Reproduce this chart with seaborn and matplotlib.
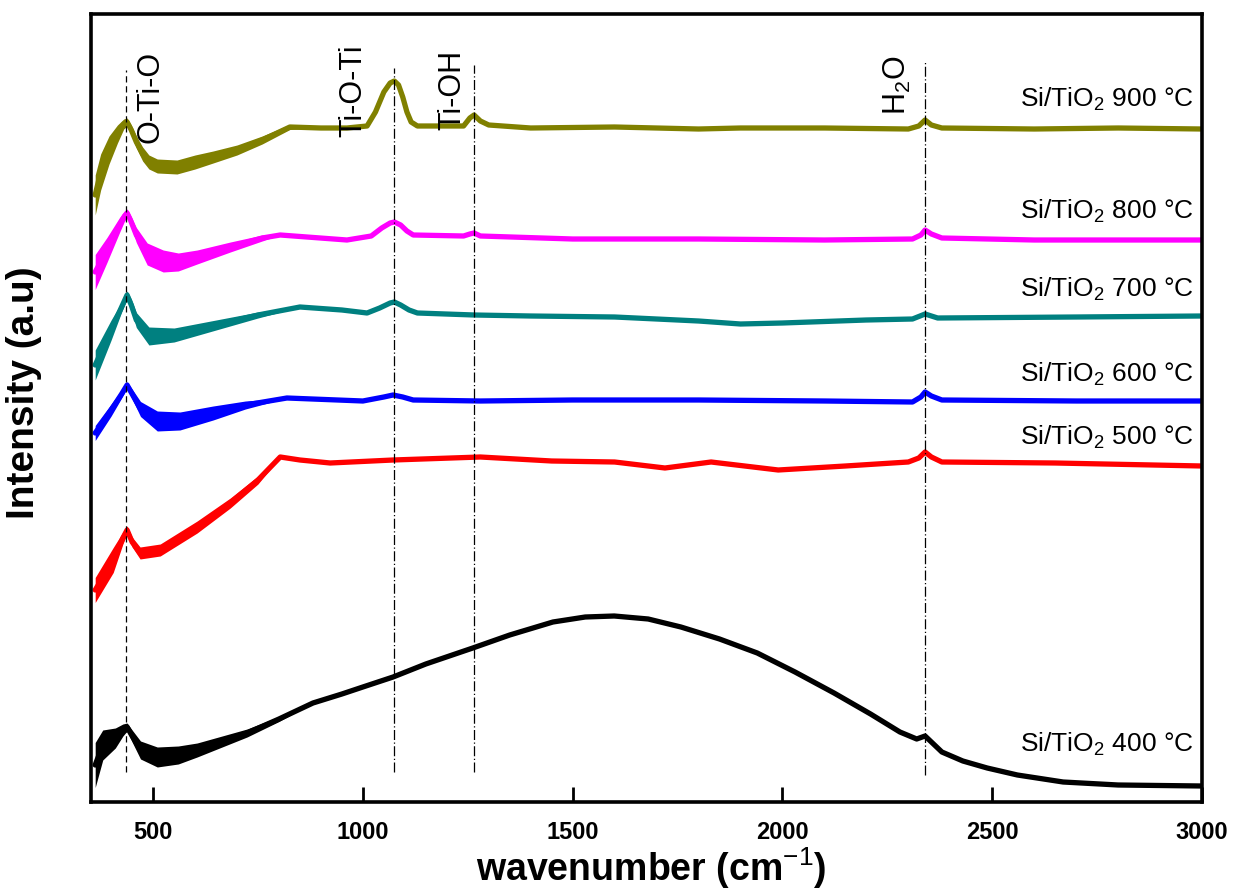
import numpy as np
import pandas as pd
import matplotlib
matplotlib.use("Agg")
import matplotlib.pyplot as plt
import seaborn as sns

# ---------------- data ----------------
# wavenumber (cm-1), offset intensity (a.u.), band thickness of the noisy trace
wn_900 = [362, 375, 395, 415, 430, 438, 448, 460, 475, 490, 510, 557, 600, 643, 700, 760, 826, 900, 962, 1010, 1030, 1050, 1065, 1075, 1085, 1095, 1105, 1115, 1130, 1240, 1255, 1265, 1280, 1300, 1400, 1600, 1800, 1900, 2100, 2300, 2325, 2340, 2355, 2380, 2600, 2800, 3000]
y_900 = [607, 630, 652, 668, 678, 680, 672, 660, 648, 640, 636, 635, 640, 645, 652, 662, 675, 674, 674, 676, 690, 710, 719, 721, 717, 705, 690, 680, 676, 676, 684, 687, 681, 677, 674, 675, 673, 674, 674, 673, 676, 682, 677, 674, 673, 674, 673]
s_900 = [40, 36, 28, 18, 10, 8, 10, 12, 14, 14, 14, 14, 14, 12, 10, 8, 5, 0, 0, 0, 0, 0, 0, 0, 0, 0, 0, 0, 0, 0, 0, 0, 0, 0, 0, 0, 0, 0, 0, 0, 0, 0, 0, 0, 0, 0, 0]

wn_800 = [362, 390, 420, 432, 438, 446, 460, 486, 524, 560, 605, 684, 760, 803, 962, 1020, 1045, 1065, 1075, 1090, 1105, 1120, 1240, 1255, 1265, 1280, 1500, 1800, 2100, 2310, 2330, 2340, 2355, 2380, 2600, 3000]
y_800 = [530, 552, 577, 586, 589, 582, 567, 548, 541, 540, 545, 555, 564, 567, 562, 566, 574, 579, 580, 577, 571, 567, 566, 568, 569, 566, 563, 563, 562, 563, 567, 572, 568, 564, 562, 562]
s_800 = [35, 25, 15, 10, 8, 10, 15, 22, 22, 18, 14, 10, 6, 0, 0, 0, 0, 0, 0, 0, 0, 0, 0, 0, 0, 0, 0, 0, 0, 0, 0, 0, 0, 0, 0, 0]

wn_700 = [362, 400, 425, 438, 448, 460, 490, 550, 650, 750, 850, 950, 1010, 1040, 1065, 1075, 1090, 1110, 1130, 1265, 1400, 1600, 1800, 1900, 2000, 2200, 2310, 2340, 2370, 2700, 3000]
y_700 = [437, 472, 495, 507, 497, 482, 466, 467, 477, 487, 495, 492, 489, 494, 499, 500, 497, 492, 489, 487, 486, 485, 481, 478, 479, 482, 483, 488, 484, 485, 486]
s_700 = [30, 20, 10, 8, 12, 15, 18, 14, 10, 6, 0, 0, 0, 0, 0, 0, 0, 0, 0, 0, 0, 0, 0, 0, 0, 0, 0, 0, 0, 0, 0]

wn_600 = [362, 400, 425, 438, 450, 470, 510, 564, 643, 720, 819, 1000, 1050, 1072, 1095, 1120, 1280, 1500, 1800, 2100, 2310, 2330, 2340, 2355, 2380, 2700, 3000]
y_600 = [369, 392, 408, 417, 408, 393, 381, 381, 389, 397, 404, 401, 405, 407, 405, 402, 401, 402, 402, 401, 400, 405, 410, 406, 402, 401, 401]
s_600 = [15, 12, 8, 6, 10, 15, 20, 18, 14, 8, 0, 0, 0, 0, 0, 0, 0, 0, 0, 0, 0, 0, 0, 0, 0, 0, 0]

wn_500 = [362, 405, 428, 438, 450, 469, 517, 605, 684, 750, 803, 850, 922, 1072, 1280, 1450, 1600, 1720, 1830, 1990, 2150, 2300, 2325, 2340, 2355, 2380, 2650, 3000]
y_500 = [212, 242, 264, 272, 260, 249, 252, 275, 299, 322, 345, 342, 339, 342, 345, 341, 340, 334, 340, 332, 336, 340, 344, 350, 345, 340, 339, 336]
s_500 = [25, 25, 12, 8, 10, 12, 12, 12, 10, 8, 0, 0, 0, 0, 0, 0, 0, 0, 0, 0, 0, 0, 0, 0, 0, 0, 0, 0]

wn_400 = [362, 380, 410, 428, 438, 450, 470, 510, 560, 605, 724, 800, 881, 950, 1000, 1072, 1150, 1262, 1350, 1453, 1530, 1599, 1680, 1758, 1850, 1940, 2030, 2123, 2210, 2280, 2320, 2340, 2355, 2380, 2430, 2488, 2560, 2669, 2800, 3000]
y_400 = [37, 57, 64, 72, 75, 66, 52, 45, 47, 52, 69, 83, 99, 108, 115, 125, 138, 154, 167, 180, 185, 186, 183, 175, 163, 149, 130, 109, 88, 70, 63, 66, 60, 50, 41, 34, 27, 20, 17, 16]
s_400 = [45, 30, 20, 12, 8, 12, 18, 20, 18, 14, 8, 5, 0, 0, 0, 0, 0, 0, 0, 0, 0, 0, 0, 0, 0, 0, 0, 0, 0, 0, 0, 0, 0, 0, 0, 0, 0, 0, 0, 0]

series_names = ["900", "800", "700", "600", "500", "400"]
series_colors = ["#808000", "#FF00FF", "#008080", "#0000FF", "#FF0000", "#000000"]
label_y = [695, 583, 505, 420, 357, 50]

peak_names = ["O-Ti-O", "Ti-O-Ti", "Ti-OH", "H$_2$O"]
peak_pos = [435, 1075, 1265, 2340]
peak_text_x = [493, 977, 1213, 2273]
peak_text_y = [659, 665, 672, 687]

x_ticks = [500, 1000, 1500, 2000, 2500, 3000]

# ---------------- build table ----------------
frames = []
for name, wn, y, s in [("900", wn_900, y_900, s_900), ("800", wn_800, y_800, s_800),
                       ("700", wn_700, y_700, s_700), ("600", wn_600, y_600, s_600),
                       ("500", wn_500, y_500, s_500), ("400", wn_400, y_400, s_400)]:
    frames.append(pd.DataFrame({"wn": wn, "y": y, "s": s, "series": name}))
df = pd.concat(frames, ignore_index=True)

# ---------------- plot ----------------
sns.set_theme(style="white")
plt.rcParams["font.family"] = ["Liberation Sans", "DejaVu Sans"]
plt.rcParams["mathtext.fontset"] = "custom"
plt.rcParams["mathtext.rm"] = "Liberation Sans"
plt.rcParams["mathtext.it"] = "Liberation Sans:italic"
plt.rcParams["mathtext.bf"] = "Liberation Sans:bold"
plt.rcParams["text.color"] = "black"
plt.rcParams["axes.labelcolor"] = "black"
plt.rcParams["xtick.color"] = "black"

fig = plt.figure(figsize=(12.35, 8.94), dpi=100)
ax = fig.add_axes([91 / 1235, 1 - 802 / 894, 1111 / 1235, 788 / 894])

palette = dict(zip(series_names, series_colors))
sns.lineplot(data=df, x="wn", y="y", hue="series", palette=palette, estimator=None,
             sort=False, linewidth=3.8, legend=False, ax=ax)
for name in series_names:
    d = df[df["series"] == name]
    ax.fill_between(d["wn"], d["y"] - d["s"] / 2, d["y"] + d["s"] / 2,
                    color=palette[name], linewidth=0, zorder=1.5)

# reference lines
styles = [(0, (5, 3)), (0, (8, 2, 1, 2)), (0, (8, 2, 1, 2)), (0, (8, 2, 1, 2))]
ymins = [30, 30, 30, 27]
ymaxs = [732, 734, 737, 740]
for xp, st, lo, hi in zip(peak_pos, styles, ymins, ymaxs):
    ax.vlines(xp, lo, hi, colors="black", linestyles=[st], linewidth=0.9, zorder=3)

for txt, xt, yt in zip(peak_names, peak_text_x, peak_text_y):
    ax.text(xt, yt, txt, rotation=90, ha="center", va="bottom", fontsize=22,
            color="black")

for name, yl in zip(series_names, label_y):
    ax.text(2980, yl, "Si/TiO$_2$ " + name + " °C", ha="right", va="baseline",
            fontsize=19, color="black")

ax.set_xlim(352, 3000)
ax.set_ylim(0, 788)
ax.set_xticks(x_ticks)
ax.set_yticks([])
ax.set_xticklabels([str(t) for t in x_ticks], fontsize=17, fontweight="bold")
ax.tick_params(axis="x", direction="in", length=11, width=2, pad=14, bottom=True,
               top=False, colors="black")
for sp in ax.spines.values():
    sp.set_visible(True)
    sp.set_linewidth(2.6)
    sp.set_color("black")

ax.set_xlabel("wavenumber (cm$^{-1}$)", fontsize=27, fontweight="bold")
ax.xaxis.set_label_coords(0.504, -0.055)
ax.xaxis.label.set_va("top")
ax.set_ylabel("Intensity (a.u)", fontsize=28, fontweight="bold")
ax.yaxis.set_label_coords(-0.044, 0.52)

fig.savefig("out.png", dpi=100)
